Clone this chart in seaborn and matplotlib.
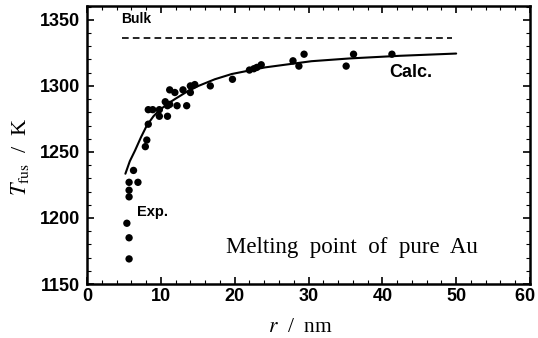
import matplotlib
matplotlib.use("Agg")
import matplotlib.pyplot as plt
from matplotlib.ticker import MultipleLocator
import seaborn as sns

# Experimental points (r in nm, T in K)
exp_r = [5.4, 5.7, 5.7, 5.7, 5.7, 5.7, 6.3, 6.9,
         7.9, 8.1, 8.3, 8.3, 8.9, 9.8, 9.8, 10.6, 10.9, 10.9, 11.2, 11.2,
         11.9, 12.2, 13.0, 13.5, 14.0, 14.0, 14.6, 16.7, 19.7,
         22.0, 22.6, 23.0, 23.6, 27.9, 28.7, 29.4, 35.1, 36.1, 41.3]
exp_T = [1196, 1169, 1185, 1216, 1221, 1227, 1236, 1227,
         1254, 1259, 1271, 1282, 1282, 1282, 1277, 1288, 1277, 1285, 1286, 1297,
         1295, 1285, 1297, 1285, 1295, 1300, 1301, 1300, 1305,
         1312, 1313, 1314, 1316, 1319, 1315, 1324, 1315, 1324, 1324]

# Calculated curve
calc_r = [5.2, 5.8, 6.5, 7.3, 8.1, 9.0, 9.7, 10.8, 11.9, 13.5, 15.1, 17.3,
          19.6, 24.1, 30.4, 35.6, 42.4, 50.0]
calc_T = [1233.5, 1243, 1251, 1261, 1270, 1277, 1281, 1286, 1290, 1295.5, 1300, 1305,
          1309, 1314, 1318.7, 1320.8, 1322.8, 1324.5]

# Bulk melting point
bulk_r = [4.7, 49.5]
bulk_T = [1336, 1336]

# Tick labels
x_ticks = [0, 10, 20, 30, 40, 50, 60]
x_ticklabels = ["0", "10", "20", "30", "40", "50", "60  "]
y_ticks = [1150, 1200, 1250, 1300, 1350]
y_ticklabels = ["1150", "1200", "1250", "1300", "1350"]

sns.set_theme(style="ticks")
plt.rcParams["font.family"] = ["Liberation Sans", "DejaVu Sans"]
plt.rcParams["mathtext.fontset"] = "stix"
plt.rcParams["text.color"] = "black"
plt.rcParams["xtick.color"] = "black"
plt.rcParams["ytick.color"] = "black"
plt.rcParams["axes.labelcolor"] = "black"

fig = plt.figure(figsize=(5.38, 3.38), dpi=100)
ax = fig.add_axes([87/538, 1-284/338, (530-87)/538, (284-6)/338])

sns.lineplot(x=calc_r, y=calc_T, ax=ax, color="black", linewidth=1.5, sort=False)
sns.lineplot(x=bulk_r, y=bulk_T, ax=ax, color="black", linewidth=1.2,
             linestyle=(0, (4, 2.5)))
sns.scatterplot(x=exp_r, y=exp_T, ax=ax, color="black", s=28, edgecolor="none", zorder=5)

ax.set_xlim(0, 60)
ax.set_ylim(1150, 1360.5)
ax.set_xticks(x_ticks, labels=x_ticklabels, fontweight="bold")
ax.set_yticks(y_ticks, labels=y_ticklabels, fontweight="bold")
ax.xaxis.set_minor_locator(MultipleLocator(2))
ax.yaxis.set_minor_locator(MultipleLocator(10))
ax.tick_params(which="both", direction="in", top=True, right=True, color="black")
ax.tick_params(which="major", length=5, width=1.2, labelsize=13, pad=3)
ax.tick_params(axis="y", which="major", pad=5)
ax.tick_params(which="minor", length=3, width=0.8)
for sp in ax.spines.values():
    sp.set_linewidth(1.8)
    sp.set_color("black")

ax.set_xlabel(r"$r$  /  nm", fontsize=15.5, family="Liberation Serif")
ax.set_ylabel(r"$T_{\rm fus}$  /  K", fontsize=16, family="Liberation Serif")
ax.xaxis.set_label_coords(0.483, -0.158)
ax.xaxis.label.set_va("center")
ax.yaxis.set_label_coords(-0.151, 0.457)
ax.yaxis.label.set_va("center")

ax.text(4.6, 1350.5, "Bulk", fontsize=10, fontweight="bold", va="center", ha="left")
ax.text(41.0, 1310.5, "Calc.", fontsize=13, fontweight="bold", va="center", ha="left")
ax.text(6.8, 1204.5, "Exp.", fontsize=10.5, fontweight="bold", va="center", ha="left")
ax.text(18.8, 1178, "Melting  point  of  pure  Au", fontsize=16.5,
        family="Liberation Serif", va="center", ha="left")

fig.savefig("out.png", dpi=100)
